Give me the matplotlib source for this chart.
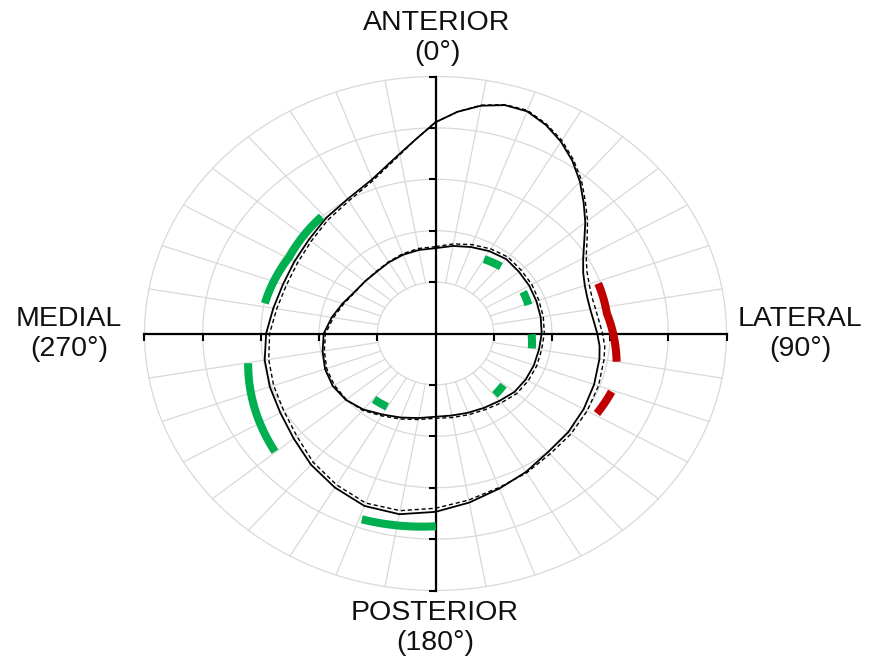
import numpy as np
import matplotlib.pyplot as plt

plt.rcParams['font.family'] = ['Liberation Sans', 'DejaVu Sans']

# radial profiles; angles in degrees, clockwise from anterior
outer_deg = [0, 5, 10, 15, 20, 25, 30, 35, 40, 45, 50, 55, 60, 65, 70, 75, 80, 85,
             90, 95, 100, 110, 120, 130, 140, 150, 160, 170, 180, 190, 200, 210,
             220, 230, 240, 250, 260, 270, 280, 290, 300, 310, 320, 330, 340, 350, 355]
outer_solid = [4.11, 4.33, 4.50, 4.60, 4.60, 4.48, 4.31, 4.10, 3.86, 3.60, 3.36, 3.12,
               2.93, 2.80, 2.73, 2.70, 2.70, 2.73, 2.78, 2.83, 2.86, 2.90, 2.94, 2.98,
               3.01, 3.11, 3.21, 3.34, 3.47, 3.57, 3.57, 3.46, 3.33, 3.18, 3.08, 3.03,
               2.98, 2.91, 2.83, 2.79, 2.80, 2.84, 2.93, 3.02, 3.19, 3.55, 3.80]
outer_dashed = [4.11, 4.33, 4.51, 4.61, 4.62, 4.50, 4.34, 4.13, 3.90, 3.64, 3.41, 3.18,
                2.99, 2.87, 2.81, 2.78, 2.79, 2.82, 2.87, 2.92, 2.94, 2.98, 3.01, 3.04,
                3.06, 3.13, 3.19, 3.29, 3.40, 3.50, 3.51, 3.40, 3.27, 3.11, 3.01, 2.96,
                2.91, 2.85, 2.77, 2.73, 2.74, 2.79, 2.88, 2.98, 3.16, 3.53, 3.80]

inner_deg = [0, 10, 20, 30, 40, 50, 60, 70, 80, 90, 100, 110, 120, 130, 140, 150, 160,
             170, 180, 190, 200, 210, 220, 230, 240, 250, 260, 270, 280, 290, 300, 310,
             320, 330, 340, 350]
inner_solid = [1.66, 1.73, 1.79, 1.85, 1.89, 1.87, 1.86, 1.845, 1.835, 1.825, 1.805,
               1.80, 1.79, 1.77, 1.71, 1.67, 1.64, 1.62, 1.62, 1.67, 1.74, 1.82, 1.93,
               2.01, 2.04, 2.02, 1.97, 1.92, 1.81, 1.70, 1.61, 1.58, 1.57, 1.60, 1.63, 1.65]
inner_dashed = [1.69, 1.77, 1.84, 1.90, 1.94, 1.92, 1.91, 1.89, 1.88, 1.87, 1.85,
                1.85, 1.84, 1.82, 1.76, 1.71, 1.68, 1.66, 1.65, 1.70, 1.77, 1.85, 1.95,
                2.00, 2.01, 1.99, 1.94, 1.89, 1.78, 1.68, 1.60, 1.58, 1.58, 1.61, 1.65, 1.68]

# highlighted sectors: angle and radius along each bar
green_deg = [[319.3, 300.5, 281.3], [259.8, 230.2], [199.3, 179.9],
             [30.0, 40.8], [61.7, 70.8], [90.5, 99.9], [130.7, 139.5], [210.2, 219.5]]
green_r = [[3.00, 2.92, 2.99], [3.27, 3.59], [3.83, 3.75],
           [1.67, 1.72], [1.71, 1.69], [1.65, 1.68], [1.54, 1.57], [1.65, 1.66]]
red_deg = [[70.8, 82.4, 100.0], [110.5, 119.3]]
red_r = [[2.96, 2.97, 3.16], [3.23, 3.18]]

grid_r = [1, 2, 3, 4, 5]
spoke_deg = list(range(0, 360, 10))
direction_labels = ['ANTERIOR\n(0°)', 'LATERAL\n(90°)', 'POSTERIOR\n(180°)', 'MEDIAL\n(270°)']

GRID = '#d9d9d9'
GREEN = '#00b050'
RED = '#c00000'


def closed(deg, r):
    return np.deg2rad(deg + deg[:1]), r + r[:1]


def polar_path(deg, r, steps=24):
    # follow each segment in (theta, r) space so bars bend like arcs
    th, rr = [], []
    for i in range(len(deg) - 1):
        th.append(np.linspace(deg[i], deg[i + 1], steps, endpoint=False))
        rr.append(np.linspace(r[i], r[i + 1], steps, endpoint=False))
    th.append([deg[-1]])
    rr.append([r[-1]])
    return np.deg2rad(np.concatenate(th)), np.concatenate(rr)


fig = plt.figure(figsize=(8.72, 6.58), dpi=100)
ax = fig.add_axes([144.5 / 872, 67.5 / 658, 582 / 872, 514 / 658], projection='polar')
ax.set_aspect('auto')
ax.set_theta_zero_location('N')
ax.set_theta_direction(-1)
ax.set_ylim(0, 5)
ax.grid(False)
ax.set_xticks([])
ax.set_yticks([])
ax.spines['polar'].set_visible(False)

# light grid: rings and spokes starting at the inner ring
ring = np.linspace(0, 2 * np.pi, 361)
for r in grid_r:
    ax.plot(ring, np.full_like(ring, r), color=GRID, lw=0.9, clip_on=False, zorder=1)
for d in spoke_deg:
    t = np.deg2rad(d)
    ax.plot([t, t], [grid_r[0], grid_r[-1]], color=GRID, lw=0.9, clip_on=False, zorder=1)

# black cross axes with ticks
for d in [0, 90, 180, 270]:
    t = np.deg2rad(d)
    ax.plot([t, t], [0, grid_r[-1]], color='k', lw=1.6, clip_on=False, zorder=3)
for d in [0, 180]:
    ax.plot(np.full(len(grid_r), np.deg2rad(d)), grid_r, ls='none', marker=0,
            ms=5, mew=1.5, color='k', clip_on=False, zorder=3)
for d in [90, 270]:
    ax.plot(np.full(len(grid_r), np.deg2rad(d)), grid_r, ls='none', marker=3,
            ms=5, mew=1.5, color='k', clip_on=False, zorder=3)

# profiles
for deg, solid, dashed in [(outer_deg, outer_solid, outer_dashed),
                           (inner_deg, inner_solid, inner_dashed)]:
    ax.plot(*closed(deg, dashed), color='k', lw=1.0, ls=(0, (3, 2)), zorder=4)
    ax.plot(*closed(deg, solid), color='k', lw=1.3, zorder=5)

# sector bars
for deg, r in zip(green_deg, green_r):
    ax.plot(*polar_path(deg, r), color=GREEN, lw=5.8, solid_capstyle='butt', zorder=6)
for deg, r in zip(red_deg, red_r):
    ax.plot(*polar_path(deg, r), color=RED, lw=5.8, solid_capstyle='butt', zorder=6)

# direction labels
label_pos = [(437, 38), (800, 334), (435, 628), (69, 334)]
for text, (x, y) in zip(direction_labels, label_pos):
    fig.text(x / 872, 1 - y / 658, text, ha='center', va='center',
             multialignment='center', fontsize=20.5, color='#111111', linespacing=1.15)

fig.savefig('out.png', dpi=100)
